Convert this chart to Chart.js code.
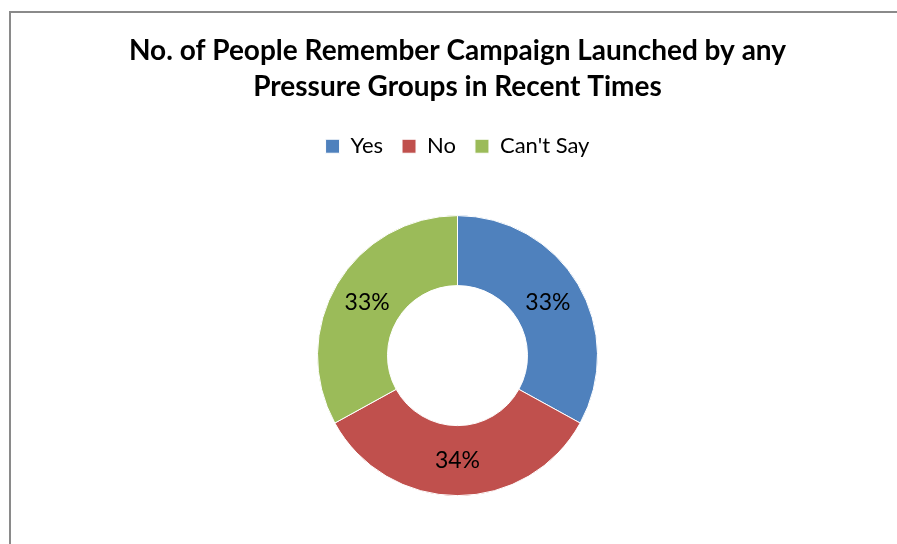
<!DOCTYPE html>
<html>
<head>
<meta charset="utf-8">
<script src="https://cdn.jsdelivr.net/npm/chart.js@4.4.1/dist/chart.umd.min.js"></script>
<style>
  html, body { margin: 0; padding: 0; background: #ffffff; }
  #frame {
    position: absolute; left: 9px; top: 11px; width: 900px; height: 540px;
    border-left: 2px solid #8a8a8a; border-top: 2px solid #8a8a8a;
    box-sizing: border-box;
  }
  #wrap { position: absolute; left: 0; top: 0; width: 897px; height: 544px; }
</style>
</head>
<body>
<div id="frame"></div>
<div id="wrap"><canvas id="chart" width="897" height="544"></canvas></div>
<script>
const categories = ["Yes", "No", "Can't Say"];
const shares = [33, 34, 33];
const sliceColors = ["#4F81BD", "#C0504D", "#9BBB59"];
const titleLines = ["No. of People Remember Campaign Launched by any", "Pressure Groups in Recent Times"];

const FONT = "Lato, 'Open Sans', 'Liberation Sans', sans-serif";

// Writes each slice's percentage in the middle of its ring segment
const sliceLabels = {
  id: 'sliceLabels',
  afterDatasetsDraw(chart) {
    const ctx = chart.ctx;
    const meta = chart.getDatasetMeta(0);
    ctx.save();
    ctx.font = "23px " + FONT;
    ctx.fillStyle = "#000000";
    ctx.textAlign = "center";
    ctx.textBaseline = "middle";
    meta.data.forEach((arc, i) => {
      const p = arc.tooltipPosition();
      ctx.fillText(shares[i] + "%", p.x, p.y);
    });
    ctx.restore();
  }
};

new Chart(document.getElementById('chart'), {
  type: 'doughnut',
  data: {
    labels: categories,
    datasets: [{
      data: shares,
      backgroundColor: sliceColors,
      borderColor: "#ffffff",
      borderWidth: 1,
      hoverOffset: 0,
      radius: 140
    }]
  },
  options: {
    responsive: false,
    animation: false,
    cutout: '50%',
    layout: { padding: { left: 18, right: 0, top: 31, bottom: 0 } },
    plugins: {
      title: {
        display: true,
        text: titleLines,
        color: "#000000",
        font: { family: FONT, size: 28, weight: 'bold', lineHeight: 1.29 },
        padding: { top: 2, bottom: 11 }
      },
      legend: {
        position: 'top',
        labels: {
          color: "#000000",
          font: { family: FONT, size: 22 },
          boxWidth: 14,
          boxHeight: 14,
          padding: 19
        }
      },
      tooltip: { enabled: false }
    }
  },
  plugins: [sliceLabels]
});
</script>
</body>
</html>
